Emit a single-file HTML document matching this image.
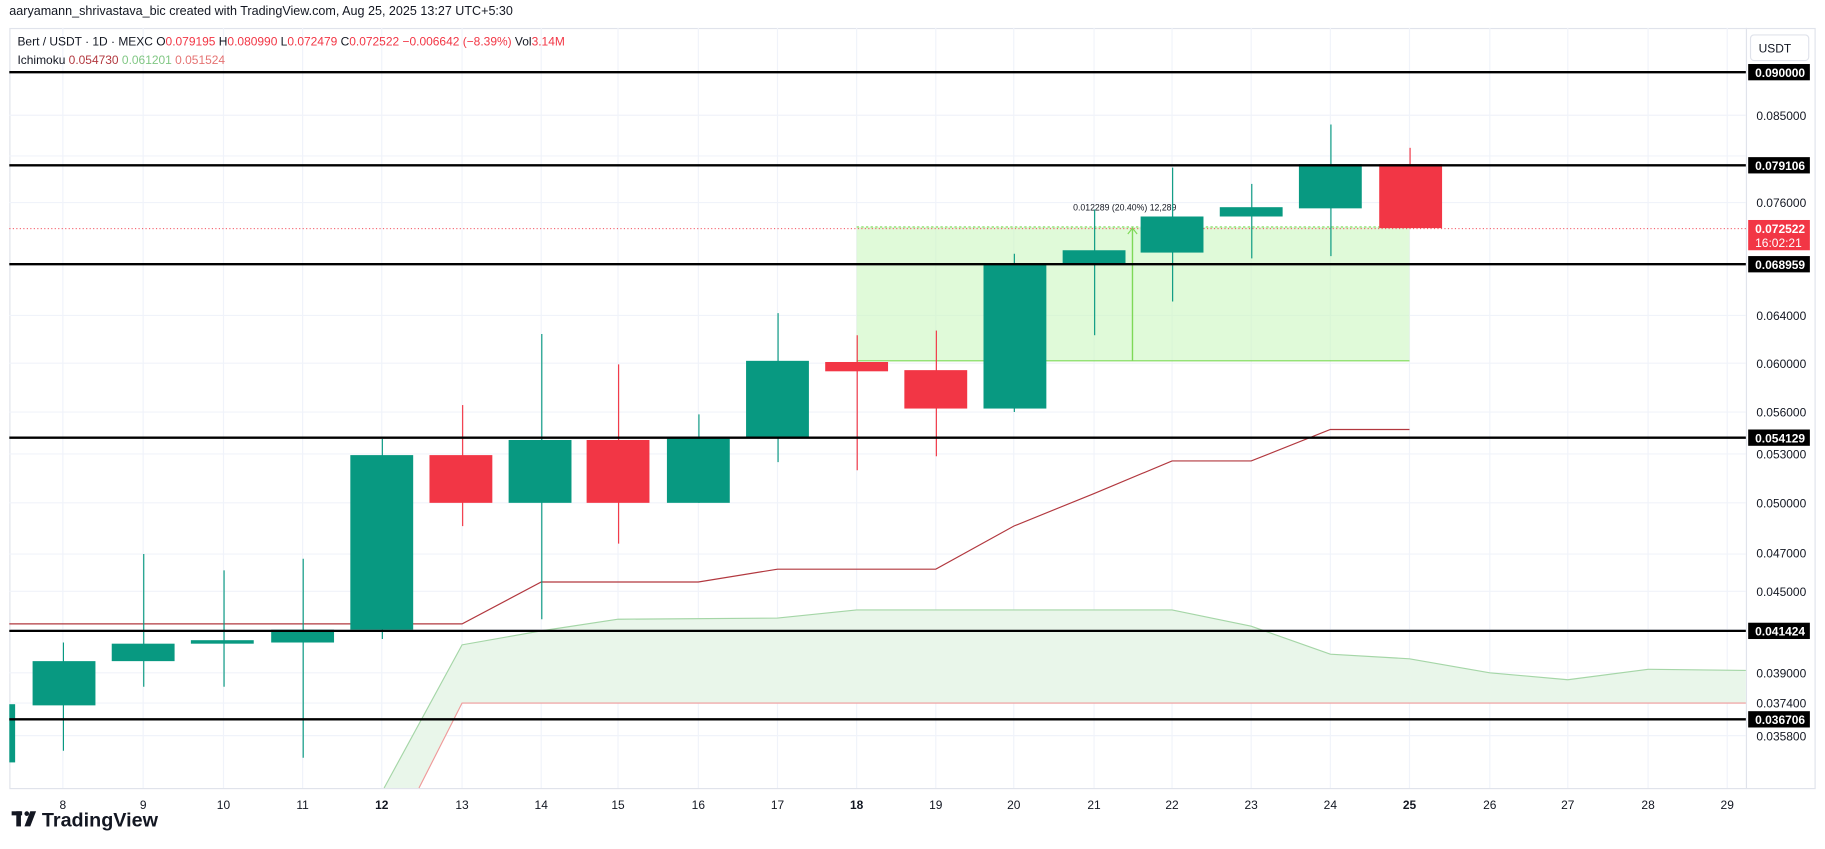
<!DOCTYPE html>
<html><head><meta charset="utf-8"><style>
body{margin:0;background:#fff;width:1825px;height:849px;overflow:hidden;font-family:"Liberation Sans",sans-serif}
svg{display:block}
</style></head><body>
<svg width="1825" height="849" viewBox="0 0 1568 729.4" preserveAspectRatio="none" xmlns="http://www.w3.org/2000/svg" font-family="Liberation Sans, sans-serif">
<rect width="1568" height="730" fill="#fff"/>
<text x="8" y="13" font-size="10.8" fill="#131722">aaryamann_shrivastava_bic created with TradingView.com, Aug 25, 2025 13:27 UTC+5:30</text>
<rect x="8.5" y="24.5" width="1551" height="653" fill="none" stroke="#e0e3eb"/>
<line x1="1500.5" y1="24" x2="1500.5" y2="677" stroke="#e0e3eb"/>
<g stroke="#f0f3fa" stroke-width="1">
<line x1="54" y1="24" x2="54" y2="677"/><line x1="123" y1="24" x2="123" y2="677"/><line x1="192" y1="24" x2="192" y2="677"/><line x1="260" y1="24" x2="260" y2="677"/><line x1="328" y1="24" x2="328" y2="677"/><line x1="397" y1="24" x2="397" y2="677"/><line x1="465" y1="24" x2="465" y2="677"/><line x1="531" y1="24" x2="531" y2="677"/><line x1="600" y1="24" x2="600" y2="677"/><line x1="668" y1="24" x2="668" y2="677"/><line x1="736" y1="24" x2="736" y2="677"/><line x1="804" y1="24" x2="804" y2="677"/><line x1="871" y1="24" x2="871" y2="677"/><line x1="940" y1="24" x2="940" y2="677"/><line x1="1007" y1="24" x2="1007" y2="677"/><line x1="1075" y1="24" x2="1075" y2="677"/><line x1="1143" y1="24" x2="1143" y2="677"/><line x1="1211" y1="24" x2="1211" y2="677"/><line x1="1280" y1="24" x2="1280" y2="677"/><line x1="1347" y1="24" x2="1347" y2="677"/><line x1="1416" y1="24" x2="1416" y2="677"/><line x1="1484" y1="24" x2="1484" y2="677"/>
<line x1="8" y1="99" x2="1500" y2="99"/><line x1="8" y1="134" x2="1500" y2="134"/><line x1="8" y1="174" x2="1500" y2="174"/><line x1="8" y1="227" x2="1500" y2="227"/><line x1="8" y1="271" x2="1500" y2="271"/><line x1="8" y1="312" x2="1500" y2="312"/><line x1="8" y1="354" x2="1500" y2="354"/><line x1="8" y1="390" x2="1500" y2="390"/><line x1="8" y1="432" x2="1500" y2="432"/><line x1="8" y1="476" x2="1500" y2="476"/><line x1="8" y1="508" x2="1500" y2="508"/><line x1="8" y1="541" x2="1500" y2="541"/><line x1="8" y1="578" x2="1500" y2="578"/><line x1="8" y1="604" x2="1500" y2="604"/><line x1="8" y1="632" x2="1500" y2="632"/>
</g>
<polygon points="330,677 397,554 465,542 531,532 668,531 736,524 1007,524 1075,538 1143,562 1211,566 1280,578 1347,584 1416,575 1500,576 1500,604 397,604 360,677" fill="#e8f5e9" opacity="0.95"/>
<polyline points="330,677 397,554 465,542 531,532 668,531 736,524 1007,524 1075,538 1143,562 1211,566 1280,578 1347,584 1416,575 1500,576" fill="none" stroke="#a5d6a7" stroke-width="1"/>
<polyline points="360,677 397,604 1500,604" fill="none" stroke="#ef9a9a" stroke-width="1"/>
<rect x="736" y="195" width="475" height="115" fill="#ccf7c0" opacity="0.6"/>
<line x1="736" y1="310" x2="1211" y2="310" stroke="#7ed957" stroke-width="1"/>
<line x1="736" y1="195" x2="1211" y2="195" stroke="#7ed957" stroke-width="1" stroke-dasharray="2,2"/>
<line x1="973" y1="310" x2="973" y2="196" stroke="#7ed957" stroke-width="1.2"/>
<polyline points="969,201 973,196 977,201" fill="none" stroke="#7ed957"/>
<text x="922" y="181" font-size="7.5" fill="#131722">0.012289 (20.40%) 12,289</text>
<polyline points="8,536 397,536 465,500 600,500 668,489 804,489 871,452 940,424 1007,396 1075,396 1143,369 1211,369" fill="none" stroke="#b2383f" stroke-width="1"/>
<line x1="8" y1="196.5" x2="1500" y2="196.5" stroke="#f23645" stroke-width="0.8" stroke-dasharray="1,2"/>
<g stroke-width="1">
<rect x="8" y="605" width="5" height="50" fill="#089981"/>
<line x1="54.5" y1="552" x2="54.5" y2="645" stroke="#089981"/><rect x="28" y="568" width="54" height="38" fill="#089981"/>
<line x1="123.5" y1="476" x2="123.5" y2="590" stroke="#089981"/><rect x="96" y="553" width="54" height="15" fill="#089981"/>
<line x1="192.5" y1="490" x2="192.5" y2="590" stroke="#089981"/><rect x="164" y="550" width="54" height="3" fill="#089981"/>
<line x1="260.5" y1="480" x2="260.5" y2="651" stroke="#089981"/><rect x="233" y="541" width="54" height="11" fill="#089981"/>
<line x1="328.5" y1="377" x2="328.5" y2="549" stroke="#089981"/><rect x="301" y="391" width="54" height="150" fill="#089981"/>
<line x1="397.5" y1="348" x2="397.5" y2="452" stroke="#f23645"/><rect x="369" y="391" width="54" height="41" fill="#f23645"/>
<line x1="465.5" y1="287" x2="465.5" y2="532" stroke="#089981"/><rect x="437" y="378" width="54" height="54" fill="#089981"/>
<line x1="531.5" y1="313" x2="531.5" y2="467" stroke="#f23645"/><rect x="504" y="378" width="54" height="54" fill="#f23645"/>
<line x1="600.5" y1="356" x2="600.5" y2="432" stroke="#089981"/><rect x="573" y="376" width="54" height="56" fill="#089981"/>
<line x1="668.5" y1="269" x2="668.5" y2="397" stroke="#089981"/><rect x="641" y="310" width="54" height="66" fill="#089981"/>
<line x1="736.5" y1="288" x2="736.5" y2="404" stroke="#f23645"/><rect x="709" y="311" width="54" height="8" fill="#f23645"/>
<line x1="804.5" y1="284" x2="804.5" y2="392" stroke="#f23645"/><rect x="777" y="318" width="54" height="33" fill="#f23645"/>
<line x1="871.5" y1="218" x2="871.5" y2="354" stroke="#089981"/><rect x="845" y="226" width="54" height="125" fill="#089981"/>
<line x1="940.5" y1="180" x2="940.5" y2="288" stroke="#089981"/><rect x="913" y="215" width="54" height="12" fill="#089981"/>
<line x1="1007.5" y1="144" x2="1007.5" y2="259" stroke="#089981"/><rect x="980" y="186" width="54" height="31" fill="#089981"/>
<line x1="1075.5" y1="158" x2="1075.5" y2="222" stroke="#089981"/><rect x="1048" y="178" width="54" height="8" fill="#089981"/>
<line x1="1143.5" y1="107" x2="1143.5" y2="220" stroke="#089981"/><rect x="1116" y="141" width="54" height="38" fill="#089981"/>
<line x1="1211.5" y1="127" x2="1211.5" y2="196" stroke="#f23645"/><rect x="1185" y="141" width="54" height="55" fill="#f23645"/>
</g>
<g stroke="#000" stroke-width="2">
<line x1="8" y1="62" x2="1500" y2="62"/><line x1="8" y1="142" x2="1500" y2="142"/><line x1="8" y1="227" x2="1500" y2="227"/><line x1="8" y1="376" x2="1500" y2="376"/><line x1="8" y1="542" x2="1500" y2="542"/><line x1="8" y1="618" x2="1500" y2="618"/>
</g>
<g font-size="10.3" fill="#131722">
<text x="15" y="39">Bert / USDT · 1D · MEXC  <tspan>O</tspan><tspan fill="#f23645">0.079195</tspan>  H<tspan fill="#f23645">0.080990</tspan>  L<tspan fill="#f23645">0.072479</tspan>  C<tspan fill="#f23645">0.072522</tspan>  <tspan fill="#f23645">−0.006642 (−8.39%)</tspan>  Vol<tspan fill="#f23645">3.14M</tspan></text>
<text x="15" y="55">Ichimoku  <tspan fill="#b2383f">0.054730</tspan>  <tspan fill="#81c784">0.061201</tspan>  <tspan fill="#e57373">0.051524</tspan></text>
</g>
<rect x="1504" y="30" width="50" height="22" rx="3" fill="#fff" stroke="#e0e3eb"/>
<text x="1511" y="45" font-size="10.3" fill="#131722">USDT</text>
<g font-size="10.3" fill="#131722">
<text x="1509" y="103">0.085000</text><text x="1509" y="178">0.076000</text><text x="1509" y="275">0.064000</text><text x="1509" y="316">0.060000</text><text x="1509" y="358">0.056000</text><text x="1509" y="394">0.053000</text><text x="1509" y="436">0.050000</text><text x="1509" y="479">0.047000</text><text x="1509" y="512">0.045000</text><text x="1509" y="545">0.043000</text><text x="1509" y="582">0.039000</text><text x="1509" y="608">0.037400</text><text x="1509" y="636">0.035800</text>
</g>
<g font-size="10.3" font-weight="bold" fill="#fff">
<rect x="1502" y="55" width="53" height="14" fill="#000"/><text x="1508" y="66">0.090000</text>
<rect x="1502" y="135" width="53" height="14" fill="#000"/><text x="1508" y="146">0.079106</text>
<rect x="1502" y="220" width="53" height="14" fill="#000"/><text x="1508" y="231">0.068959</text>
<rect x="1502" y="369" width="53" height="14" fill="#000"/><text x="1508" y="380">0.054129</text>
<rect x="1502" y="535" width="53" height="14" fill="#000"/><text x="1508" y="546">0.041424</text>
<rect x="1502" y="611" width="53" height="14" fill="#000"/><text x="1508" y="622">0.036706</text>
<rect x="1502" y="189" width="53" height="26" fill="#f23645"/><text x="1508" y="200">0.072522</text><text x="1508" y="212" font-weight="normal">16:02:21</text>
</g>
<g font-size="10.3" fill="#131722" text-anchor="middle">
<text x="54" y="695">8</text><text x="123" y="695">9</text><text x="192" y="695">10</text><text x="260" y="695">11</text><text x="328" y="695" font-weight="bold">12</text><text x="397" y="695">13</text><text x="465" y="695">14</text><text x="531" y="695">15</text><text x="600" y="695">16</text><text x="668" y="695">17</text><text x="736" y="695" font-weight="bold">18</text><text x="804" y="695">19</text><text x="871" y="695">20</text><text x="940" y="695">21</text><text x="1007" y="695">22</text><text x="1075" y="695">23</text><text x="1143" y="695">24</text><text x="1211" y="695" font-weight="bold">25</text><text x="1280" y="695">26</text><text x="1347" y="695">27</text><text x="1416" y="695">28</text><text x="1484" y="695">29</text>
</g>
<g fill="#131722">
<rect x="10" y="697" width="9" height="3.5"/><rect x="14" y="697" width="4" height="13"/>
<circle cx="23" cy="699" r="2"/><polygon points="26,697 31,697 26,710 21,710"/>
<text x="36" y="710" font-size="17" font-weight="bold">TradingView</text>
</g>
</svg>
</body></html>
